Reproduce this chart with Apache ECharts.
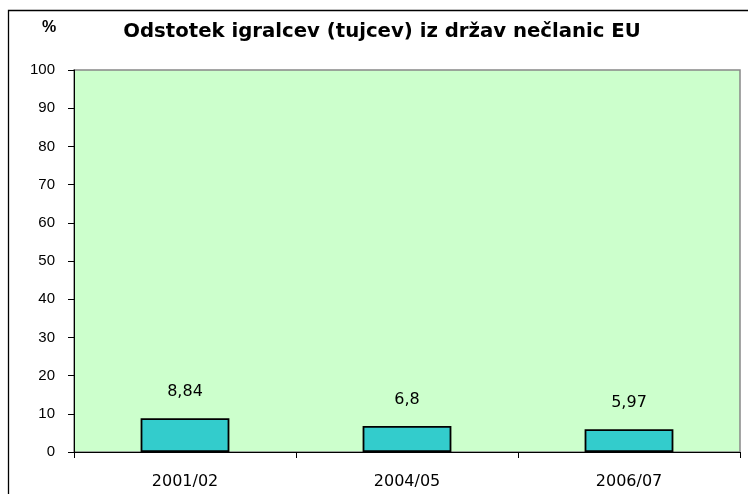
<!DOCTYPE html>
<html><head><meta charset="utf-8">
<script src="https://cdn.jsdelivr.net/npm/echarts@6/dist/echarts.min.js"></script>
<style>html,body{margin:0;padding:0;background:#fff}#c{width:748px;height:494px}</style>
</head><body><div id="c"></div>
<script>
const categories = ['2001/02', '2004/05', '2006/07'];
const values = [8.84, 6.8, 5.97];
const yTicks = { min: 0, max: 100, interval: 10 };

const chart = echarts.init(document.getElementById('c'), null, { renderer: 'canvas' });
chart.setOption({
  animation: false,
  backgroundColor: '#ffffff',
  textStyle: { fontFamily: 'DejaVu Sans, sans-serif' },
  title: {
    text: 'Odstotek igralcev (tujcev) iz držav nečlanic EU',
    left: 377, top: 17, textAlign: 'center',
    textStyle: { fontSize: 19.7, fontWeight: 'bold', color: '#000', fontFamily: 'DejaVu Sans, sans-serif' }
  },
  graphic: [
    { type: 'polyline', shape: { points: [[8.5, 494], [8.5, 10.5], [748, 10.5]] }, style: { stroke: '#000', lineWidth: 1.3, fill: null }, z: 10 },
    { type: 'text', left: 42, top: 20, style: { text: '%', font: 'bold 16px Liberation Sans, Arial, sans-serif', fill: '#000' } }
  ],
  grid: { left: 74, top: 70, right: 8, bottom: 42, show: true, backgroundColor: '#CCFFCC', borderColor: '#888', borderWidth: 1.5 },
  xAxis: {
    type: 'category', data: categories,
    axisLine: { lineStyle: { color: '#000', width: 1 } },
    axisTick: { show: true, length: 6, lineStyle: { color: '#000' } },
    axisLabel: { color: '#000', fontSize: 16, margin: 22, fontFamily: 'DejaVu Sans, sans-serif' }
  },
  yAxis: {
    type: 'value', min: yTicks.min, max: yTicks.max, interval: yTicks.interval,
    axisLine: { show: true, lineStyle: { color: '#000', width: 1 } },
    axisTick: { show: true, length: 6, lineStyle: { color: '#000' } },
    axisLabel: { color: '#000', fontSize: 15, margin: 19, fontFamily: 'Liberation Sans, Arial, sans-serif' },
    splitLine: { show: false }
  },
  series: [{
    type: 'bar', data: values, barWidth: '40%',
    itemStyle: { color: '#33CCCC', borderColor: '#000', borderWidth: 1.8 },
    label: {
      show: true, position: 'top', distance: 18, color: '#000', fontSize: 16, fontFamily: 'DejaVu Sans, sans-serif',
      formatter: p => String(p.value).replace('.', ',')
    }
  }]
});
</script></body></html>
